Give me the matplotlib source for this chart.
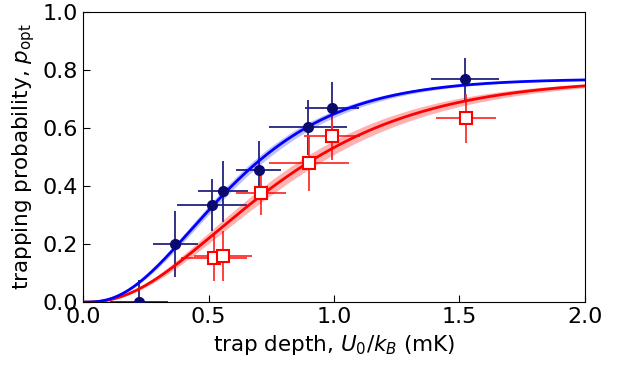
import math
import numpy as np
import matplotlib
matplotlib.use('Agg')
import matplotlib.pyplot as plt

# measured points (blue: filled circles, red: open squares)
blue_x = [0.223, 0.367, 0.514, 0.558, 0.700, 0.896, 0.992, 1.522]
blue_y = [0.000, 0.200, 0.334, 0.383, 0.455, 0.603, 0.669, 0.769]
blue_xerr = [0.115, 0.090, 0.140, 0.100, 0.090, 0.155, 0.108, 0.135]
blue_yerr = [0.075, 0.115, 0.090, 0.105, 0.100, 0.095, 0.090, 0.072]

red_x = [0.522, 0.558, 0.709, 0.900, 0.992, 1.526]
red_y = [0.152, 0.159, 0.376, 0.479, 0.572, 0.634]
red_xerr = [0.130, 0.115, 0.100, 0.160, 0.110, 0.120]
red_yerr = [0.080, 0.085, 0.075, 0.095, 0.083, 0.085]

# model parameters (amplitude, kT in mK, shape, band half-width in kT)
blue_fit = (0.77, 0.215, 3.0, 0.007)
red_fit = (0.77, 0.310, 2.7, 0.016)


def p_trap(u, amp, kt, k):
    # amp * regularized lower incomplete gamma P(k, u/kt)
    x = np.asarray(u) / kt
    term = np.ones_like(x)
    total = np.ones_like(x)
    for n in range(1, 120):
        term = term * x / (k + n)
        total = total + term
    return amp * x**k * np.exp(-x) / math.gamma(k + 1) * total


u = np.linspace(0, 2, 400)

plt.rcParams['font.size'] = 15.5
fig = plt.figure(figsize=(6.21, 3.68), dpi=100)
ax = fig.add_axes([0.1337, 0.179, 0.8083, 0.788])

# error bars sit under the fit curves, markers on top
ax.errorbar(blue_x, blue_y, xerr=blue_xerr, yerr=blue_yerr, fmt='none',
            ecolor='#23237f', elinewidth=1.3, capsize=0, zorder=1)
ax.errorbar(red_x, red_y, xerr=red_xerr, yerr=red_yerr, fmt='none',
            ecolor='#ff3030', elinewidth=1.3, capsize=0, zorder=1.5)

for (amp, kt, k, dk), color, a in [(red_fit, '#ff0000', 0.3),
                                   (blue_fit, '#0000ff', 0.25)]:
    lo = p_trap(u, amp, kt + dk, k)
    hi = p_trap(u, amp, kt - dk, k)
    ax.fill_between(u, lo, hi, color=color, alpha=a, lw=0, zorder=2)
    ax.plot(u, p_trap(u, amp, kt, k), color=color, lw=2, zorder=3)

ax.plot(blue_x, blue_y, 'o', color='#0a0a6e', markersize=7, zorder=4)
ax.plot(red_x, red_y, 's', color='#ff0000', markerfacecolor='white',
        markersize=8, markeredgewidth=1.5, zorder=5)

ax.set_xlim(0, 2)
ax.set_ylim(0, 1)
ax.set_xticks([0, 0.5, 1.0, 1.5, 2.0])
ax.set_yticks([0, 0.2, 0.4, 0.6, 0.8, 1.0])
ax.tick_params(direction='in', length=5, labelsize=16)
ax.set_xlabel(r'trap depth, $U_0/k_B$ (mK)')
ax.set_ylabel(r'trapping probability, $p_{\mathrm{opt}}$')

fig.savefig('out.png', dpi=100)
